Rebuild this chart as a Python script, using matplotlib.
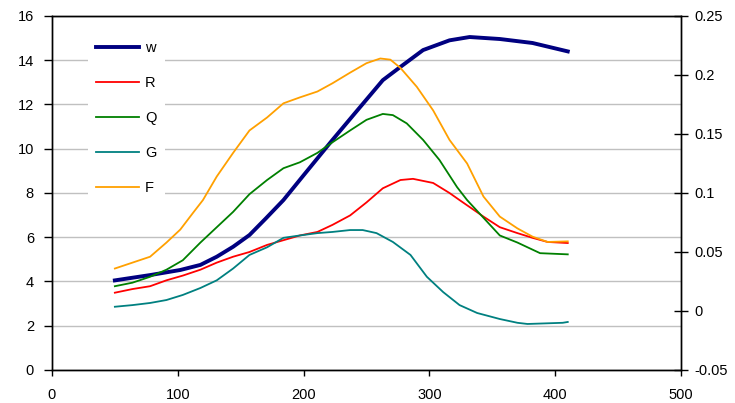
import matplotlib
matplotlib.use('Agg')
import matplotlib.pyplot as plt
from matplotlib.ticker import FuncFormatter

plt.rcParams['font.family'] = ['Liberation Sans', 'DejaVu Sans']

# values
w_x = [50, 78, 102, 118, 131, 144, 157, 170, 184, 200, 223, 240, 263, 277, 295, 316, 332, 356, 382, 410]
w_y = [4.05, 4.29, 4.52, 4.75, 5.12, 5.57, 6.1, 6.85, 7.68, 8.8, 10.4, 11.55, 13.1, 13.7, 14.46, 14.9, 15.05, 14.96, 14.78, 14.4]

f_x = [50, 64, 78, 91, 102, 112, 120, 131, 144, 157, 171, 184, 197, 211, 223, 237, 250, 261, 269, 277,
       290, 303, 316, 330, 343, 356, 370, 382, 394, 410]
f_y = [0.036, 0.041, 0.046, 0.058, 0.069, 0.083, 0.094, 0.114, 0.134, 0.153, 0.164, 0.176, 0.181, 0.186,
       0.193, 0.202, 0.210, 0.214, 0.213, 0.206, 0.190, 0.170, 0.145, 0.125, 0.097, 0.080, 0.070, 0.063,
       0.0585, 0.059]

q_x = [50, 64, 78, 91, 104, 118, 131, 144, 157, 171, 184, 197, 211, 223, 237, 250, 263, 271, 282, 295,
       308, 322, 330, 356, 370, 382, 388, 410]
q_y = [0.021, 0.024, 0.029, 0.035, 0.043, 0.058, 0.071, 0.084, 0.099, 0.111, 0.121, 0.126, 0.134, 0.143,
       0.153, 0.162, 0.167, 0.166, 0.159, 0.145, 0.128, 0.105, 0.094, 0.064, 0.058, 0.052, 0.049, 0.048]

r_x = [50, 64, 78, 91, 104, 118, 131, 144, 157, 171, 184, 197, 211, 223, 237, 250, 263, 277, 287, 303,
       316, 324, 343, 356, 370, 382, 394, 410]
r_y = [0.0155, 0.0186, 0.021, 0.026, 0.030, 0.035, 0.041, 0.046, 0.050, 0.056, 0.060, 0.064, 0.067, 0.073,
       0.081, 0.092, 0.104, 0.111, 0.112, 0.1085, 0.100, 0.094, 0.080, 0.071, 0.066, 0.062, 0.0585, 0.0576]

g_x = [50, 64, 78, 91, 104, 118, 131, 144, 157, 171, 184, 197, 211, 223, 237, 247, 258, 271, 285, 298,
       311, 324, 338, 356, 370, 378, 406, 410]
g_y = [0.0036, 0.005, 0.0068, 0.0093, 0.0136, 0.0195, 0.026, 0.036, 0.0475, 0.054, 0.062, 0.064, 0.066,
       0.067, 0.0686, 0.0686, 0.066, 0.0585, 0.0475, 0.029, 0.016, 0.005, -0.0017, -0.0068, -0.010,
       -0.011, -0.010, -0.0093]

fig = plt.figure(figsize=(7.35, 4.03), dpi=100)
ax = fig.add_axes([0.0707, 0.0819, 0.8558, 0.8784])
ax2 = ax.twinx()

lw, = ax.plot(w_x, w_y, color='#000080', lw=2.8, label='w')
lr, = ax2.plot(r_x, r_y, color='#FF0000', lw=1.3, label='R')
lq, = ax2.plot(q_x, q_y, color='#008000', lw=1.3, label='Q')
lg, = ax2.plot(g_x, g_y, color='#008080', lw=1.3, label='G')
lf, = ax2.plot(f_x, f_y, color='#FFA000', lw=1.3, label='F')

ax.set_xlim(0, 500)
ax.set_ylim(0, 16)
ax2.set_ylim(-0.05, 0.25)
ax.set_xticks(range(0, 501, 100))
ax.set_yticks(range(0, 17, 2))
ax2.set_yticks([-0.05, 0, 0.05, 0.1, 0.15, 0.2, 0.25])
ax2.yaxis.set_major_formatter(FuncFormatter(lambda v, p: '%g' % round(v, 2)))

ax.grid(axis='y', color='#C0C0C0', lw=1)
ax.set_axisbelow(True)

for a in (ax, ax2):
    for s in a.spines.values():
        s.set_color('black')
        s.set_linewidth(1)

ax.tick_params(axis='y', direction='out', length=6, width=1, labelsize=10.5, pad=7)
ax.tick_params(axis='x', direction='out', length=4, width=1, labelsize=10.5, pad=9)
ax2.tick_params(axis='y', direction='inout', length=10, width=1, labelsize=10.5, pad=5)

leg = ax2.legend(handles=[lw, lr, lq, lg, lf], loc='upper left', bbox_to_anchor=(0.045, 0.975),
                 frameon=True, facecolor='white', edgecolor='none', framealpha=1, fancybox=False,
                 fontsize=10.5, handlelength=2.95, labelspacing=1.44, handletextpad=0.4, borderpad=0.6)

fig.savefig('out.png', dpi=100)
